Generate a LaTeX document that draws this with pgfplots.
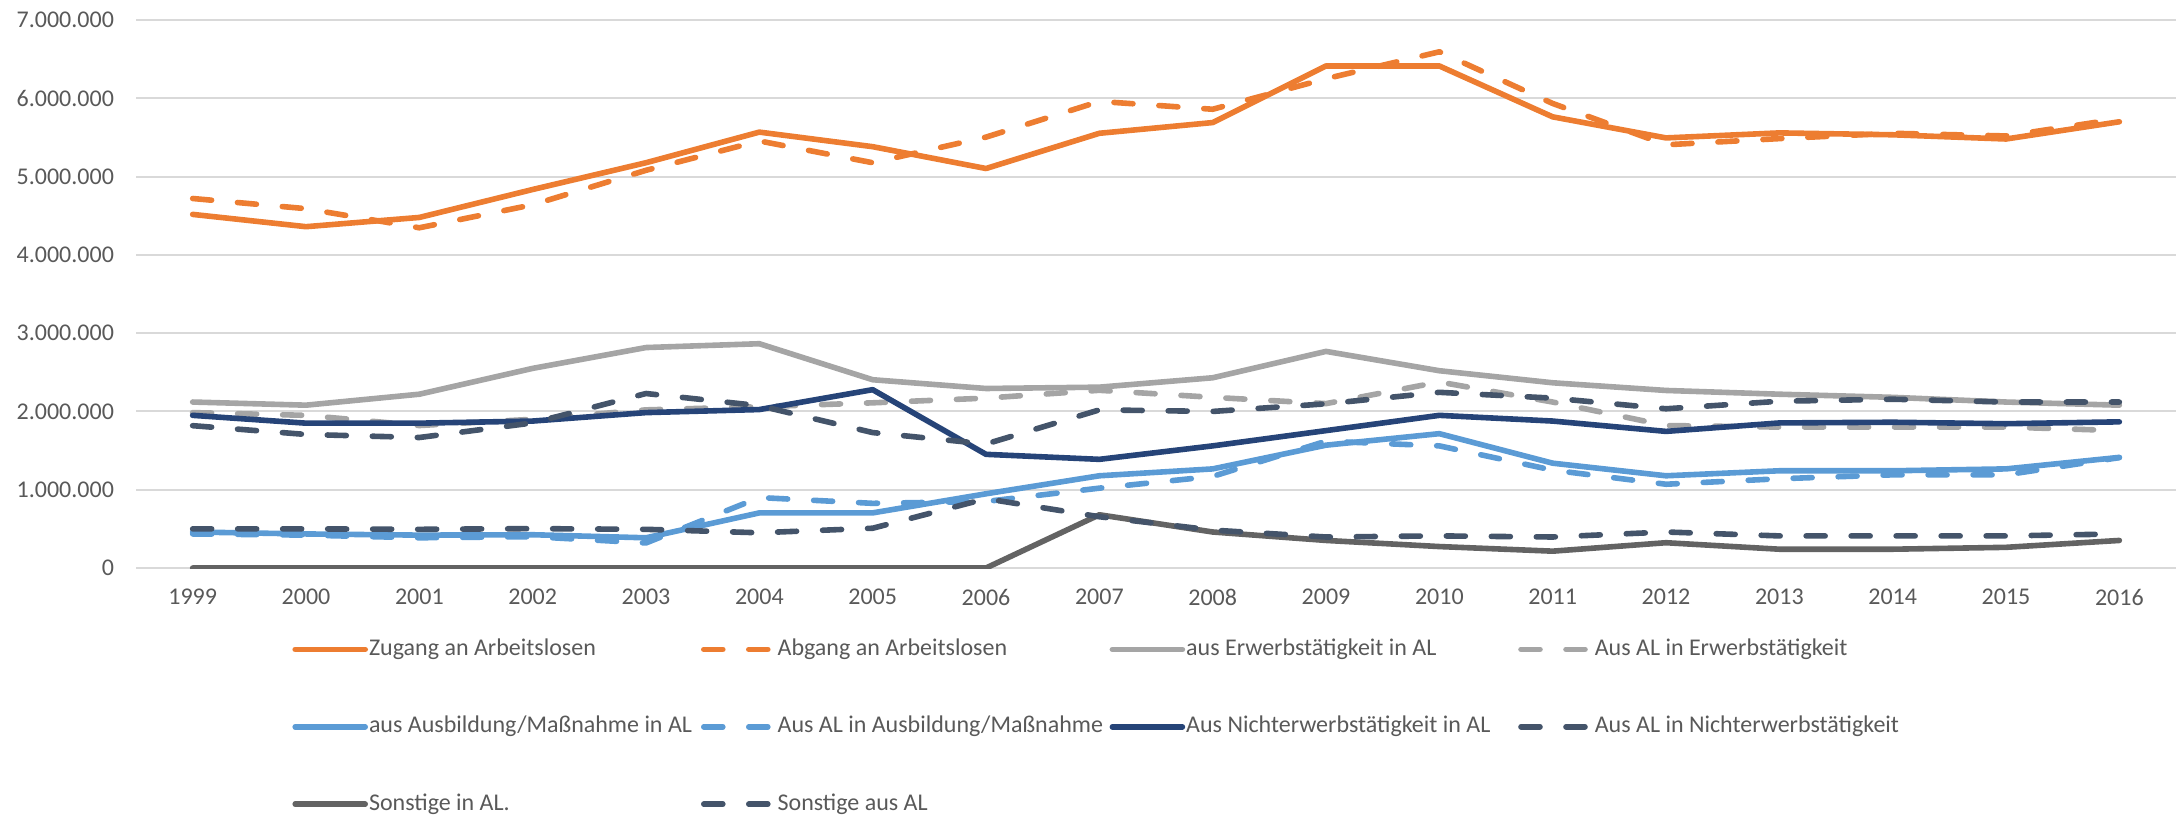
\documentclass[border=0pt]{standalone}
\usepackage{fontspec}
\setmainfont{Carlito}
\usepackage{pgfplots}
\usepackage{pgfplotstable}
\pgfplotsset{compat=1.18}
\definecolor{cOr}{HTML}{ED7D31}
\definecolor{cGr}{HTML}{A5A5A5}
\definecolor{cLb}{HTML}{5B9BD5}
\definecolor{cNv}{HTML}{264478}
\definecolor{cSl}{HTML}{44546A}
\definecolor{cDg}{HTML}{636363}
\definecolor{tickc}{HTML}{595959}
\definecolor{gridc}{HTML}{D9D9D9}
\pgfplotstableread{
x zug abg erw aerw ausb aausb nerw anerw sons asons
0 4517000 4720000 2120000 1985000 460000 435000 1950000 1818000 0 500000
1 4360000 4590000 2080000 1950000 435000 420000 1850000 1706000 0 500000
2 4478000 4346000 2220000 1820000 420000 386000 1850000 1667000 0 494000
3 4835000 4640000 2550000 1900000 425000 400000 1877000 1853000 0 503000
4 5177000 5080000 2816000 2020000 386000 320000 1985000 2229000 0 494000
5 5568000 5455000 2865000 2060000 704000 900000 2024000 2073000 0 450000
6 5382000 5177000 2405000 2110000 704000 826000 2278000 1730000 0 508000
7 5103000 5504000 2293000 2170000 948000 850000 1452000 1584000 0 885000
8 5553000 5960000 2310000 2270000 1178000 1020000 1388000 2020000 680000 655000
9 5690000 5860000 2430000 2180000 1266000 1170000 1560000 2000000 460000 484000
10 6413000 6250000 2767000 2100000 1569000 1620000 1755000 2097000 352000 396000
11 6413000 6594000 2520000 2376000 1716000 1560000 1950000 2244000 274000 410000
12 5763000 5934000 2366000 2120000 1339000 1250000 1877000 2170000 215000 396000
13 5494000 5406000 2268000 1820000 1178000 1070000 1745000 2034000 323000 460000
14 5558000 5485000 2220000 1800000 1242000 1140000 1853000 2130000 240000 410000
15 5534000 5553000 2180000 1800000 1242000 1190000 1862000 2156000 240000 410000
16 5480000 5519000 2120000 1800000 1266000 1190000 1843000 2120000 264000 410000
17 5700000 5739000 2080000 1755000 1413000 1410000 1867000 2120000 352000 435000
}\data
\begin{document}
\begin{tikzpicture}
\path[use as bounding box] (0,0) rectangle (1089pt,407pt);
\begin{axis}[
  at={(68pt,123pt)}, anchor=south west,
  width=1020pt, height=274pt, scale only axis,
  xmin=-0.5, xmax=17.5, ymin=0, ymax=7000000,
  axis line style={draw=none},
  tick style={draw=none},
  ymajorgrids, grid style={color=gridc, line width=1pt},
  xtick={0,...,17},
  xticklabels={1999,2000,2001,2002,2003,2004,2005,2006,2007,2008,2009,2010,2011,2012,2013,2014,2015,2016},
  ytick={0,1000000,2000000,3000000,4000000,5000000,6000000,7000000},
  yticklabels={0,1.000.000,2.000.000,3.000.000,4.000.000,5.000.000,6.000.000,7.000.000},
  scaled y ticks=false,
  ticklabel style={font=\fontsize{12}{14}\selectfont, color=tickc},
  xticklabel style={yshift=-7pt},
  yticklabel style={xshift=-7.5pt},
  legend columns=4,
  legend cell align=left,
  legend style={draw=none, fill=none,
    at={([xshift=75pt,yshift=-33pt]axis description cs:0,0)}, anchor=north west,
    font=\fontsize{12}{14}\selectfont, text=tickc,
    nodes={inner sep=0pt, text height=8.5pt, text depth=2.5pt},
    row sep=27.7pt,
    /tikz/every odd column/.style={column sep=0.5pt},
    /tikz/every even column/.style={column sep=0pt}},
  legend image code/.code={\draw[#1] (0pt,0pt) -- (35pt,0pt);},
  every axis plot/.append style={line width=2.8pt, line cap=round, line join=round},
  dsh/.style={dash pattern=on 9.5pt off 13pt},
]
\addplot[cOr] table[x=x,y=zug]{\data};
\addlegendentry{\makebox[166pt][l]{Zugang an Arbeitslosen}}
\addplot[cOr,dsh] table[x=x,y=abg]{\data};
\addlegendentry{\makebox[166pt][l]{Abgang an Arbeitslosen}}
\addplot[cGr] table[x=x,y=erw]{\data};
\addlegendentry{\makebox[166pt][l]{aus Erwerbstätigkeit in AL}}
\addplot[cGr,dsh] table[x=x,y=aerw]{\data};
\addlegendentry{\makebox[166pt][l]{Aus AL in Erwerbstätigkeit}}
\addplot[cLb] table[x=x,y=ausb]{\data};
\addlegendentry{\makebox[166pt][l]{aus Ausbildung/Maßnahme in AL}}
\addplot[cLb,dsh] table[x=x,y=aausb]{\data};
\addlegendentry{\makebox[166pt][l]{Aus AL in Ausbildung/Maßnahme}}
\addplot[cNv] table[x=x,y=nerw]{\data};
\addlegendentry{\makebox[166pt][l]{Aus Nichterwerbstätigkeit in AL}}
\addplot[cSl,dsh] table[x=x,y=anerw]{\data};
\addlegendentry{\makebox[166pt][l]{Aus AL in Nichterwerbstätigkeit}}
\addplot[cDg] table[x=x,y=sons]{\data};
\addlegendentry{\makebox[166pt][l]{Sonstige in AL.}}
\addplot[cSl,dsh] table[x=x,y=asons]{\data};
\addlegendentry{\makebox[166pt][l]{Sonstige aus AL}}
\end{axis}
\end{tikzpicture}
\end{document}
